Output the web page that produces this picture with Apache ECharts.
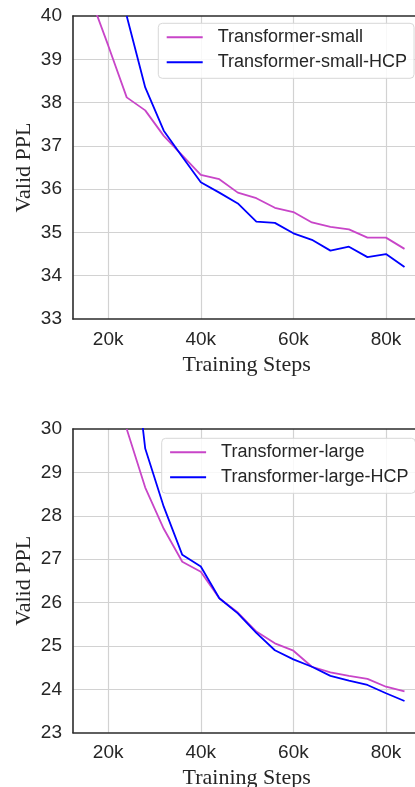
<!DOCTYPE html>
<html>
<head>
<meta charset="utf-8">
<script src="https://cdn.jsdelivr.net/npm/echarts@6/dist/echarts.min.js"></script>
<style>
html,body{margin:0;padding:0;background:#fff;}
#c{width:415px;height:787px;}
</style>
</head>
<body>
<div id="c"></div>
<script>
// ---- data ----
var steps = [16000, 20000, 24000, 28000, 32000, 36000, 40000, 44000, 48000, 52000, 56000, 60000, 64000, 68000, 72000, 76000, 80000, 84000];
var xTickLabels = ['20k', '40k', '60k', '80k'];

var smallNames = ['Transformer-small', 'Transformer-small-HCP'];
var smallBase = [40.48, 39.32, 38.12, 37.82, 37.23, 36.78, 36.33, 36.23, 35.92, 35.79, 35.57, 35.47, 35.23, 35.13, 35.07, 34.88, 34.88, 34.62];
var smallHCP  = [null, null, 40.0, 38.35, 37.35, 36.75, 36.16, 35.92, 35.67, 35.25, 35.22, 34.98, 34.83, 34.58, 34.67, 34.43, 34.50, 34.20];

var largeNames = ['Transformer-large', 'Transformer-large-HCP'];
var largeBase = [null, null, 30.0, 28.65, 27.70, 26.94, 26.71, 26.10, 25.77, 25.33, 25.06, 24.89, 24.52, 24.39, 24.31, 24.24, 24.06, 23.95];
var largeHCP  = [null, null, 33.2, 29.55, 28.21, 27.10, 26.83, 26.10, 25.75, 25.30, 24.90, 24.69, 24.52, 24.31, 24.20, 24.10, 23.91, 23.73];

var yTicksSmall = [33, 34, 35, 36, 37, 38, 39, 40];
var yTicksLarge = [23, 24, 25, 26, 27, 28, 29, 30];

// ---- build ----
function pairs(vals) {
  return steps.map(function (s, i) { return [s, vals[i]]; });
}
var SANS = 'Liberation Sans';
var SERIF = 'Liberation Serif';
var TXT = '#262626';
var GRIDC = '#d2d2d2';
var AXC = '#2b2b2b';
var MAG = '#c845c8';
var BLU = '#0000ff';

var X0 = 73, PX_PER_K = 4.63, XMIN = 12400, XMAX = 87400;
var dataW = (XMAX - XMIN) / 1000 * PX_PER_K;
var tickLeft = X0 - XMIN / 1000 * PX_PER_K;
var tickW = XMAX / 1000 * PX_PER_K;

function panel(top, height, yTicks, names, base, hcp, gi, legendLeft, legendTop) {
  var grids = [
    {left: X0, top: top, width: dataW, height: height, containLabel: false, outerBoundsMode: 'none'},
    {left: tickLeft, top: top, width: tickW, height: height, containLabel: false, outerBoundsMode: 'none'}
  ];
  var xAxes = [
    {type: 'value', gridIndex: gi, min: XMIN, max: XMAX, position: 'bottom',
     axisLine: {show: true, onZero: false, lineStyle: {color: AXC, width: 1.6}},
     axisTick: {show: false}, axisLabel: {show: false}, splitLine: {show: false},
     name: 'Training Steps', nameLocation: 'middle', nameGap: 35, nameMoveOverlap: false,
     nameTextStyle: {fontFamily: SERIF, fontSize: 22, color: TXT}},
    {type: 'value', gridIndex: gi + 1, min: 0, max: XMAX, interval: 20000, position: 'bottom',
     axisLine: {show: false}, axisTick: {show: false},
     axisLabel: {show: true, showMinLabel: false, showMaxLabel: false, margin: 11,
       fontFamily: SANS, fontSize: 19, color: TXT,
       formatter: function (v) { var idx = v / 20000 - 1; return xTickLabels[idx] || ''; }},
     splitLine: {show: true, showMinLine: false, showMaxLine: false, lineStyle: {color: GRIDC, width: 1.2}}},
    {type: 'value', gridIndex: gi, min: XMIN, max: XMAX, position: 'top',
     axisLine: {show: true, onZero: false, lineStyle: {color: AXC, width: 1.6}},
     axisTick: {show: false}, axisLabel: {show: false}, splitLine: {show: false}}
  ];
  var yAxes = [
    {type: 'value', gridIndex: gi, min: yTicks[0], max: yTicks[yTicks.length - 1], interval: 1,
     axisLine: {show: true, onZero: false, lineStyle: {color: AXC, width: 1.6}},
     axisTick: {show: false},
     axisLabel: {margin: 11, fontFamily: SANS, fontSize: 19, color: TXT},
     splitLine: {show: true, showMinLine: false, showMaxLine: false, lineStyle: {color: GRIDC, width: 1.2}},
     name: 'Valid PPL', nameLocation: 'middle', nameRotate: 90, nameGap: 38, nameMoveOverlap: false,
     nameTextStyle: {fontFamily: SERIF, fontSize: 22, color: TXT}},
    {type: 'value', gridIndex: gi + 1, show: false, min: 0, max: 1}
  ];
  var xi = gi / 2 * 3, yi = gi;
  var series = [
    {name: names[0], type: 'line', xAxisIndex: xi, yAxisIndex: yi, data: pairs(base),
     showSymbol: false, symbol: 'none', clip: true, lineStyle: {color: MAG, width: 1.8}, itemStyle: {color: MAG}, z: 3},
    {name: names[1], type: 'line', xAxisIndex: xi, yAxisIndex: yi, data: pairs(hcp),
     showSymbol: false, symbol: 'none', clip: true, lineStyle: {color: BLU, width: 1.8}, itemStyle: {color: BLU}, z: 4}
  ];
  var legend = {
    data: names, orient: 'vertical', left: legendLeft, top: legendTop,
    padding: [5, 7, 7, 8.4], itemWidth: 36, itemHeight: 2, icon: 'rect', itemGap: 7,
    textStyle: {fontFamily: SANS, fontSize: 18, color: TXT, padding: [0, 0, 0, 10]},
    borderColor: '#d8d8d8', borderWidth: 1, borderRadius: 4,
    backgroundColor: 'rgba(255,255,255,0.85)', selectedMode: false, z: 10
  };
  return {grids: grids, xAxes: xAxes, yAxes: yAxes, series: series, legend: legend};
}

var p1 = panel(16, 303, yTicksSmall, smallNames, smallBase, smallHCP, 0, 158.3, 23.3);
var p2 = panel(429, 303.7, yTicksLarge, largeNames, largeBase, largeHCP, 2, 161.7, 438.3);

var chart = echarts.init(document.getElementById('c'), null, {renderer: 'canvas'});
chart.setOption({
  animation: false,
  backgroundColor: '#ffffff',
  grid: p1.grids.concat(p2.grids),
  xAxis: p1.xAxes.concat(p2.xAxes),
  yAxis: p1.yAxes.concat(p2.yAxes),
  legend: [p1.legend, p2.legend],
  series: p1.series.concat(p2.series)
});
</script>
</body>
</html>
